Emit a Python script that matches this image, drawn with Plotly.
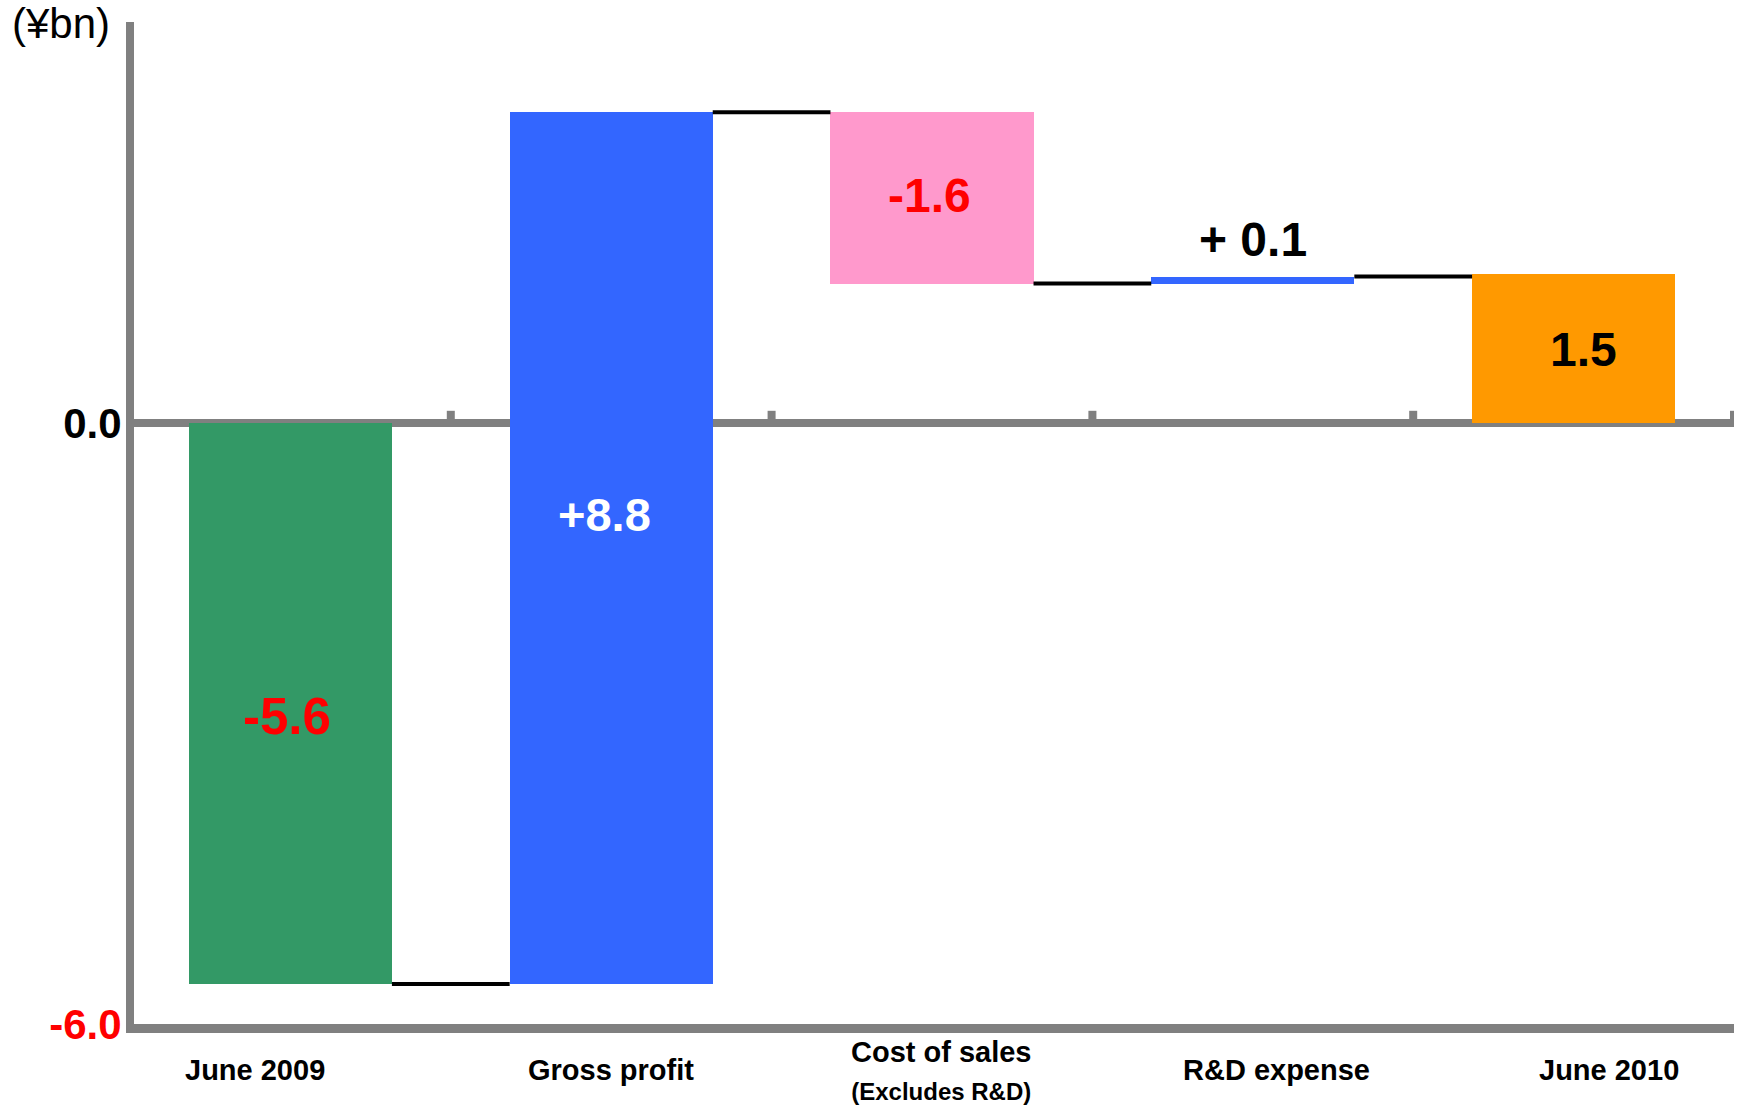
import plotly.graph_objects as go

# ---------------- data ----------------
categories = ["June 2009", "Gross profit", "Cost of sales", "R&D expense", "June 2010"]
category_sub = ["", "", "(Excludes R&D)", "", ""]
bar_start = [0.0, -5.6, 3.10, 1.39, 0.0]
bar_end = [-5.6, 3.10, 1.39, 1.46, 1.49]
value_labels = ["-5.6", "+8.8", "-1.6", "+ 0.1", "1.5"]
label_x = [-0.012, -0.022, -0.008, 0.0, 0.03]
label_y = [-2.93, -0.92, 2.27, 1.83, 0.73]
category_label_x = [-0.11, 1.0, 2.03, 3.075, 4.11]
y_tick_vals = [-6, 0]
y_tick_text = ["-6.0", "0.0"]
unit_label = "(¥bn)"

# ---------------- styles ----------------
bar_colors = ["#339966", "#3366FF", "#FF99CC", "#3366FF", "#FF9900"]
label_colors = ["#FF0000", "#FFFFFF", "#FF0000", "#000000", "#000000"]
label_sizes = [51, 47, 48, 48, 48]
y_tick_colors = ["#FF0000", "#000000"]
AXIS = "#808080"
FONT = "Liberation Sans, Arial, sans-serif"
BAR_W = 0.633

xs = list(range(len(categories)))

fig = go.Figure()

fig.add_trace(go.Bar(
    x=xs,
    base=bar_start,
    y=[e - s for s, e in zip(bar_start, bar_end)],
    width=BAR_W,
    marker=dict(color=bar_colors, line=dict(width=0)),
    hoverinfo="skip",
    showlegend=False,
))

# connector lines between consecutive bars
cx, cy = [], []
for i in range(len(categories) - 1):
    cx += [i + BAR_W / 2, i + 1 - BAR_W / 2, None]
    cy += [bar_end[i], bar_end[i], None]
fig.add_trace(go.Scatter(
    x=cx, y=cy, mode="lines",
    line=dict(color="#000000", width=4),
    hoverinfo="skip", showlegend=False,
))

annotations = []
# value labels
for i, t in enumerate(value_labels):
    annotations.append(dict(
        x=xs[i] + label_x[i], y=label_y[i], xref="x", yref="y",
        text=f"<b>{t}</b>", showarrow=False,
        font=dict(family=FONT, size=label_sizes[i], color=label_colors[i]),
        xanchor="center", yanchor="middle",
    ))
# category labels
for i, c in enumerate(categories):
    txt = f"<b>{c}</b>"
    if category_sub[i]:
        txt += f"<br><span style='font-size:24px'><b>{category_sub[i]}</b></span>"
    annotations.append(dict(
        x=category_label_x[i], y=0, xref="x", yref="paper",
        text=txt, showarrow=False,
        font=dict(family=FONT, size=29, color="#000000"),
        xanchor="center", yanchor="middle", yshift=-46,
    ))
# unit label
annotations.append(dict(
    x=0, y=1, xref="paper", yref="paper", xshift=-124, yshift=-1,
    text=unit_label, showarrow=False,
    font=dict(family=FONT, size=42, color="#000000"),
    xanchor="left", yanchor="middle",
))

# small ticks on the zero line at category boundaries
shapes = []
for i in range(len(categories)):
    b = i + 0.5
    shapes.append(dict(
        type="line", xref="x", yref="y", ysizemode="pixel", yanchor=0,
        x0=b, x1=b, y0=0, y1=12,
        line=dict(color=AXIS, width=8), layer="above",
    ))

fig.update_layout(
    width=1744, height=1105,
    margin=dict(l=134, r=10, t=22, b=81),
    paper_bgcolor="#FFFFFF", plot_bgcolor="#FFFFFF",
    font=dict(family=FONT, color="#000000"),
    bargap=0,
    annotations=annotations,
    shapes=shapes,
    xaxis=dict(
        range=[-0.4875, 4.5], showgrid=False, zeroline=False,
        showticklabels=False, ticks="",
        showline=True, linecolor=AXIS, linewidth=9,
        fixedrange=True,
    ),
    yaxis=dict(
        range=[-6, 4], showgrid=False,
        zeroline=True, zerolinecolor=AXIS, zerolinewidth=8,
        showline=True, linecolor=AXIS, linewidth=8,
        tickvals=y_tick_vals,
        ticktext=[f"<span style='color:{c}'><b>{t}</b></span>" for t, c in zip(y_tick_text, y_tick_colors)],
        tickfont=dict(family=FONT, size=42, color="#000000"),
        ticks="", layer="above traces",
        ticklabelstandoff=-4,
        fixedrange=True,
    ),
)

fig.write_html(
    "out.html",
    config={"displayModeBar": False, "staticPlot": True},
    post_script="document.body.style.margin='0';document.body.style.overflow='hidden';",
)
